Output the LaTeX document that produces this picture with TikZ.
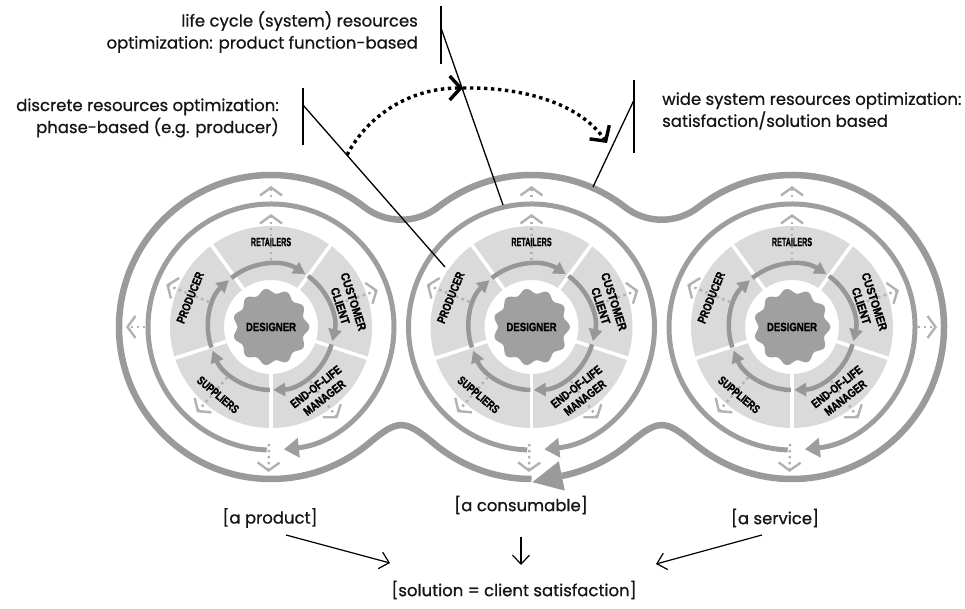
\documentclass[tikz,border=0pt]{standalone}
\usepackage{fontspec}
\usepackage{graphicx}
\usetikzlibrary{arrows.meta}
\newfontfamily\labelfont{Poppins}[FakeBold=0.8]
\newfontfamily\capsfont{Liberation Sans}[FakeBold=1.2]
\definecolor{bandgrey}{HTML}{9A9A9A}
\definecolor{ringgrey}{HTML}{9E9E9E}
\definecolor{cyclegrey}{HTML}{979797}
\definecolor{sectorgrey}{HTML}{DADADA}
\definecolor{stargrey}{HTML}{A0A0A0}
\definecolor{flowgrey}{HTML}{B2B2B2}
\definecolor{inkblack}{HTML}{151515}
\newcommand\squeezed[2][0.85]{\scalebox{#1}[1]{#2}}
\tikzset{
  band/.style={draw=bandgrey, line width=6.5pt},
  unitring/.style={draw=ringgrey, line width=5pt, -{Triangle[length=15pt,width=19pt]}},
  cyclearrow/.style={draw=cyclegrey, line width=4.5pt, -{Triangle[length=12pt,width=13pt]}},
  divider/.style={draw=white, line width=3.5pt},
  flow/.style={draw=flowgrey, line width=2.4pt, dash pattern=on 2.4pt off 3.6pt, -{Straight Barb[length=8pt,width=22pt]}},
  sect/.style={font=\capsfont\bfseries\fontsize{12}{14}\selectfont, text=black, inner sep=0pt},
  lbl/.style={font=\labelfont\fontsize{16.5}{22}\selectfont, text=inkblack, inner sep=0pt},
  pointer/.style={draw=black, line width=1.3pt},
  bracketbar/.style={draw=black, line width=2pt},
  route/.style={draw=black, line width=3.4pt, dash pattern=on 3.4pt off 3.6pt, -{Straight Barb[length=11pt,width=24pt]}},
  result/.style={draw=black, line width=1.2pt, -{Straight Barb[length=9pt,width=17pt]}},
}
\begin{document}
\begin{tikzpicture}[x=1pt,y=1pt]
\useasboundingbox (0,0) rectangle (965,609);
\coordinate (L) at (271,282);
\coordinate (M) at (531.5,282);
\coordinate (R) at (792,282);

% outer band enclosing the three cycles, closed by a large arrow head
\draw[band] (531.5,130) arc[start angle=-90, end angle=-130, radius=152]
  .. controls (404.7,189.96) and (397.8,189.96) .. (368.70,165.56)
  arc[start angle=-50, end angle=-307.91, radius=152]
  arc[start angle=232.09, end angle=307.91, radius=60]
  arc[start angle=127.91, end angle=52.09, radius=152]
  arc[start angle=232.09, end angle=307.91, radius=60]
  arc[start angle=127.91, end angle=-130, radius=152]
  .. controls (665.2,189.96) and (658.3,189.96) .. (629.20,165.56)
  arc[start angle=-50, end angle=-78.5, radius=152];
\fill[bandgrey] (564.8,118.35) -- (532.4,126.9) -- (558.8,147.75) -- cycle;

\foreach \c in {L,M,R}{
  % phase sectors
  \fill[sectorgrey, even odd rule] (\c) circle[radius=101] (\c) circle[radius=47];
  \foreach \a in {126,54,-18,-90,-162}
    \draw[divider] ([shift={(\a:44)}]\c) -- ([shift={(\a:104)}]\c);
  % unit ring
  \draw[unitring] ([shift={(268:123)}]\c) arc[start angle=268, end angle=-84, radius=123];
  % inner cycle
  \foreach \s/\e in {129/57, 54/-13, -16/-88, -91/-158, -161/-228}
    \draw[cyclearrow] ([shift={(\s:63)}]\c) arc[start angle=\s, end angle=\e, radius=63];
  % designer seal
  \begin{scope}[shift={(\c)}]
    \fill[stargrey] plot[smooth cycle, domain=0:357, samples=120] (\x:{36+2.4*cos(11*\x)});
  \end{scope}
  % outgoing flows
  \foreach \a in {90,158,19,-131,-54}
    \draw[flow] ([shift={(\a:67)}]\c) -- ([shift={(\a:113)}]\c);
  \draw[flow] ([shift={(90:124)}]\c) -- ([shift={(90:141)}]\c);
  \draw[flow] ([shift={(-91:117)}]\c) -- ([shift={(-91:145)}]\c);
  % phase names
  \node[sect] (ret\c) at ([shift={(90:85)}]\c) {\squeezed[0.6]{RETAILERS}};
  \node[sect, rotate=-72] (cus\c) at ([shift={(17:78)}]\c)
    {\squeezed[0.88]{\begin{tabular}{@{}c@{}}CUSTOMER\\CLIENT\end{tabular}}};
  \node[sect, rotate=38] (eol\c) at ([shift={(-53:83)}]\c)
    {\squeezed[0.8]{\begin{tabular}{@{}c@{}}END-OF-LIFE\\MANAGER\end{tabular}}};
  \node[sect, rotate=-40] (sup\c) at ([shift={(-128:86)}]\c) {\squeezed[0.74]{SUPPLIERS}};
  \node[sect, rotate=68] (pro\c) at ([shift={(160:86)}]\c) {\squeezed[0.79]{PRODUCER}};
  \node[sect] (des\c) at (\c) {\squeezed[0.8]{DESIGNER}};
}
\draw[flow] ([shift={(180:126)}]L) -- ([shift={(180:145)}]L);
\draw[flow] ([shift={(0:126)}]R) -- ([shift={(0:145)}]R);

% annotations
\node[lbl, anchor=east, align=right] (lifecycle) at (418,577)
  {life cycle (system) resources\\optimization: product function-based};
\node[lbl, anchor=east, align=right] (discrete) at (279,491)
  {discrete resources optimization:\\phase-based (e.g. producer)};
\node[lbl, anchor=west, align=left] (wide) at (662,498)
  {wide system resources optimization:\\satisfaction/solution based};

\coordinate (b1t) at (441,603); \coordinate (b1b) at (441,545);
\coordinate (b2t) at (303,521); \coordinate (b2b) at (303,464);
\coordinate (b3t) at (634,529); \coordinate (b3b) at (634,456);
\draw[bracketbar] (b1t) -- (b1b);
\draw[bracketbar] (b2t) -- (b2b);
\draw[bracketbar] (b3t) -- (b3b);
\coordinate (p1a) at (441,581); \coordinate (p1b) at (503,404);
\coordinate (p2a) at (303,504); \coordinate (p2b) at (445,342);
\coordinate (p3a) at (634,509); \coordinate (p3b) at (593,422);
\draw[pointer] (p1a) -- (p1b);
\draw[pointer] (p2a) -- (p2b);
\draw[pointer] (p3a) -- (p3b);

\coordinate (r0) at (347,454); \coordinate (r1) at (463,521); \coordinate (r2) at (607,466);
\draw[route] (r0) .. controls (368,494) and (410,521) .. (r1);
\draw[route] (r1) .. controls (525,522) and (580,505) .. (r2);

% outcomes
\node[lbl] (product) at (270,91) {[a product]};
\node[lbl] (consumable) at (521,104) {[a consumable]};
\node[lbl] (service) at (775,91) {[a service]};
\node[lbl] (solution) at (514,19) {[solution = client satisfaction]};
\coordinate (a1) at (286,74); \coordinate (a1e) at (390,46);
\coordinate (a2) at (521,72); \coordinate (a2e) at (521,44);
\coordinate (a3) at (762,74); \coordinate (a3e) at (656,45);
\draw[result] (a1) -- (a1e);
\draw[result] (a2) -- (a2e);
\draw[result] (a3) -- (a3e);
\end{tikzpicture}
\end{document}
